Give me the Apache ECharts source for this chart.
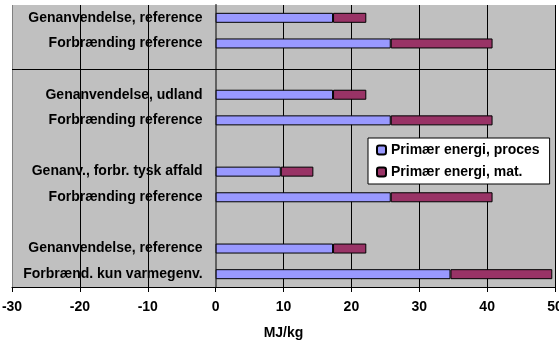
<!DOCTYPE html>
<html>
<head>
<meta charset="utf-8">
<script src="https://cdn.jsdelivr.net/npm/echarts@6/dist/echarts.min.js"></script>
<style>html,body{margin:0;padding:0;background:#fff}#c{width:559px;height:347px}</style>
</head>
<body>
<div id="c"></div>
<script>
const categories = [
  'Genanvendelse, reference',
  'Forbrænding reference',
  '',
  'Genanvendelse, udland',
  'Forbrænding reference',
  ' ',
  'Genanv., forbr. tysk affald',
  'Forbrænding reference',
  '  ',
  'Genanvendelse, reference',
  'Forbrænd. kun varmegenv.'
];
const seriesNames = ['Primær energi, proces', 'Primær energi, mat.'];
const procesValues = [17.3, 25.8, null, 17.3, 25.8, null, 9.6, 25.8, null, 17.3, 34.6];
const matValues    = [4.9, 15.0, null, 4.9, 15.0, null, 4.8, 15.0, null, 4.9, 15.0];
const xMin = -30, xMax = 50, xStep = 10;
const separatorIndex = 2;

const W = 559, gridLeft = 12, gridRight = 4;
const plotW = W - gridLeft - gridRight;
const zeroOffset = -plotW * (0 - xMin) / (xMax - xMin);

const font = 'Liberation Sans, Arial, sans-serif';
const chart = echarts.init(document.getElementById('c'), null, {renderer: 'canvas'});
chart.setOption({
  animation: false,
  backgroundColor: '#ffffff',
  grid: {left: gridLeft, right: gridRight, top: 5, bottom: 60, show: true, backgroundColor: '#c0c0c0', borderWidth: 0, containLabel: false, outerBoundsMode: 'none'},
  legend: {
    orient: 'vertical', left: 368, top: 138,
    backgroundColor: '#ffffff', borderColor: '#000', borderWidth: 1,
    padding: [5, 10, 5, 8], itemGap: 8, itemWidth: 9, itemHeight: 9,
    textStyle: {fontFamily: font, fontWeight: 'bold', fontSize: 14, color: '#000'},
    data: seriesNames
  },
  xAxis: {
    type: 'value', min: xMin, max: xMax, interval: xStep,
    name: 'MJ/kg', nameLocation: 'middle', nameGap: 39,
    nameTextStyle: {fontFamily: font, fontWeight: 'bold', fontSize: 14, color: '#000'},
    axisLine: {show: true, onZero: false, lineStyle: {color: '#000', width: 1}},
    axisTick: {show: true, length: 5, lineStyle: {color: '#000'}},
    axisLabel: {margin: 13, fontFamily: font, fontWeight: 'bold', fontSize: 14, color: '#000'},
    splitLine: {show: true, lineStyle: {color: ['#808080', '#000', '#000', '#606060', '#000', '#000', '#000', '#000', '#000'], width: 1}}
  },
  yAxis: {
    type: 'category', data: categories, inverse: true, offset: zeroOffset,
    axisLine: {show: true, onZero: false, lineStyle: {color: '#606060', width: 2}},
    axisTick: {show: false},
    axisLabel: {margin: 13, fontFamily: font, fontWeight: 'bold', fontSize: 14, color: '#000', interval: 0},
    splitLine: {show: false}
  },
  series: [
    {
      name: seriesNames[0], type: 'bar', stack: 'e', data: procesValues, barWidth: 10,
      itemStyle: {color: '#9999ff', borderColor: '#000', borderWidth: 1},
      markLine: {
        silent: true, symbol: 'none', label: {show: false},
        lineStyle: {color: '#000', width: 1, type: 'solid'},
        data: [{yAxis: separatorIndex}]
      }
    },
    {
      name: seriesNames[1], type: 'bar', stack: 'e', data: matValues, barWidth: 10,
      itemStyle: {color: '#993366', borderColor: '#000', borderWidth: 1}
    }
  ]
});
</script>
</body>
</html>
